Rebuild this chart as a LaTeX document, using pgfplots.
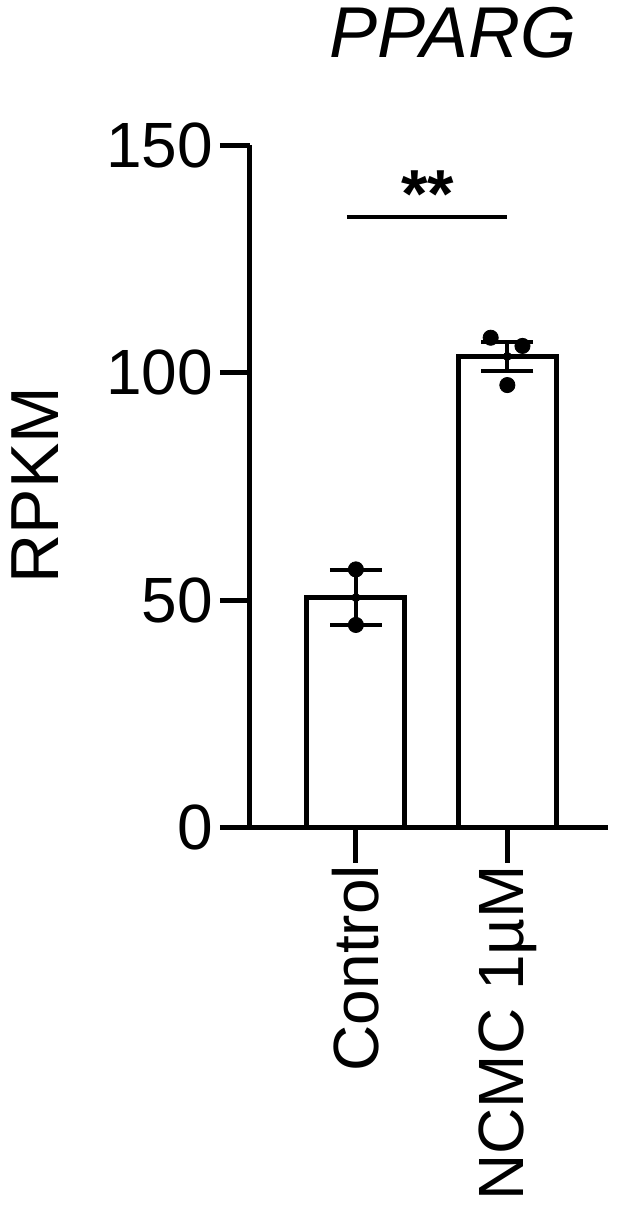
\documentclass[border=0pt]{standalone}
\usepackage{pgfplots}
\pgfplotsset{compat=1.18}
\usepackage{fontspec}
\setmainfont{Liberation Sans}
\newcommand{\lbl}{\fontsize{34}{36}\selectfont}
\newcommand{\tck}{\fontsize{32}{34}\selectfont}

\begin{document}
\begin{tikzpicture}
\begin{axis}[
    scale only axis,
    width=179pt,
    height=341.5pt,
    xmin=-0.70, xmax=1.663,
    ymin=0, ymax=150,
    axis x line=bottom,
    axis y line=left,
    axis line style={-, line width=2.5pt},
    xtick={0,1},
    xticklabels={Control, NCMC 1µM},
    ytick={0,50,100,150},
    tick align=outside,
    major tick length=15pt,
    tick style={line width=2.5pt, black},
    xtick style={/pgfplots/major tick length=17.5pt},
    /pgf/number format/assume math mode=true,
    ticklabel style={font=\tck},
    xticklabel style={rotate=90, anchor=east},
    clip=false,
    ]
% bars (means)
\addplot[ybar, bar shift=0pt, bar width=49pt, fill=white, draw=black, line width=2.5pt]
    coordinates {(0,50.6) (1,103.6)};
% SEM error bars
\addplot[black, only marks, mark=none,
    error bars/.cd, y dir=both, y explicit,
    error bar style={line width=2pt, black},
    error mark options={rotate=90, mark size=13pt, line width=2pt, black}]
    coordinates {(0,50.6) +- (0,6.1) (1,103.6) +- (0,3.2)};
% individual replicates
\addplot[only marks, mark=*, mark size=3.8pt, black]
    coordinates {(0,56.8) (0,44.6) (0.89,107.7) (1.10,105.9) (1,97.3)};
% significance bracket
\addplot[black, line width=2pt, forget plot] coordinates {(-0.06,134.2) (1,134.2)};
\node[anchor=base, font=\lbl\bfseries] at (axis cs:0.475,134.2) {**};
\node[anchor=base, font=\fontsize{36}{38}\selectfont\itshape] at (axis cs:0.64,169.3) {PPARG};
\node[rotate=90, anchor=center, font=\lbl] at (axis cs:-2.12,75.3) {RPKM};
\coordinate (bl) at (axis cs:-2.35,-83.5);
\coordinate (tr) at (axis cs:1.723,181.9);
\end{axis}
\pgfresetboundingbox
\path[use as bounding box] (bl) rectangle (tr);
\end{tikzpicture}
\end{document}
